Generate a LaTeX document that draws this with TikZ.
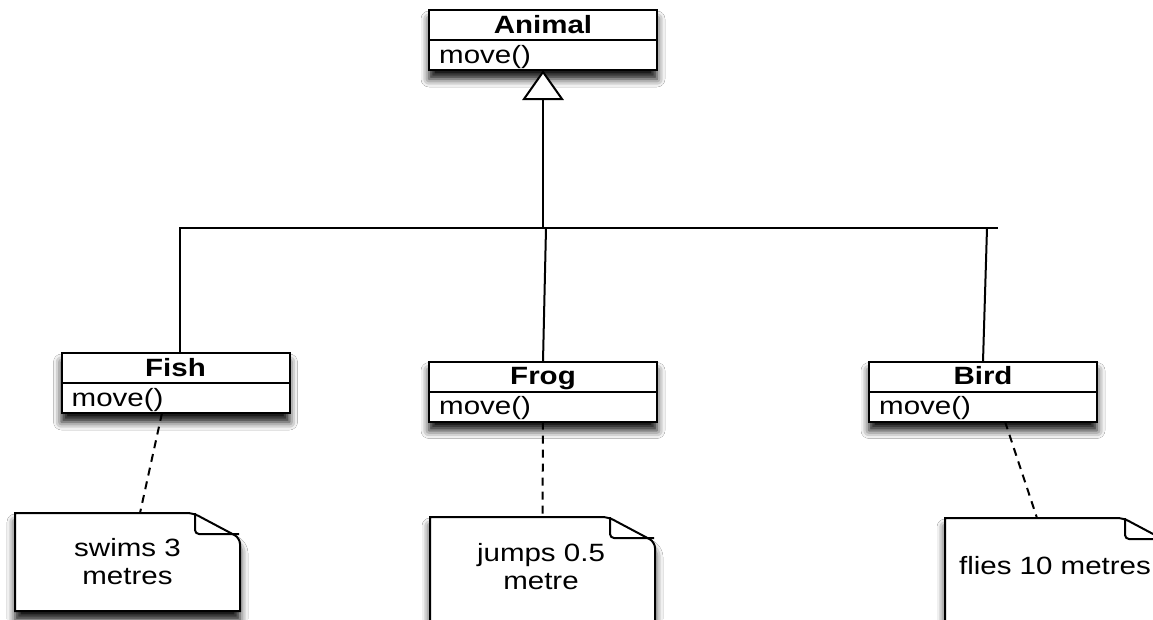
\documentclass[tikz,border=0pt]{standalone}
\usepackage{fontspec}
\setmainfont{Liberation Sans}[FakeStretch=1.18]
\usetikzlibrary{calc,shadows.blur}

\tikzset{
  softshadow/.style={blur shadow={shadow xshift=0pt, shadow yshift=-9pt, shadow blur radius=8pt, shadow opacity=95}},
  classbox/.style={draw, line width=2pt, fill=white, minimum width=228pt, minimum height=60pt,
    inner sep=0pt, outer sep=0pt, softshadow},
  classname/.style={font=\fontsize{25}{28}\selectfont\bfseries, anchor=north, inner xsep=0pt,
    inner ysep=3pt, text height=20pt, text depth=4pt},
  classop/.style={font=\fontsize{25}{28}\selectfont, anchor=north west, inner xsep=10pt,
    inner ysep=3pt, text height=20pt, text depth=4pt},
  divider/.style={line width=2pt},
  genline/.style={line width=2pt},
  notelink/.style={line width=2pt, dash pattern=on 8pt off 6pt},
  notesheet/.style={minimum width=225pt, inner sep=0pt, outer sep=0pt},
  noteline/.style={line width=2pt},
  notetext/.style={font=\fontsize{25}{28}\selectfont, align=center, inner sep=0pt}
}

% note sheet with a folded top-right corner, drawn round an empty node
\newcommand{\notesheetpath}[1]{%
  \draw[noteline, fill=white, softshadow]
    (#1.south west) -- (#1.north west) [rounded corners=6pt]
    -- ($(#1.north east)+(-47,0)$) -- ($(#1.north east)+(0,25)$) [sharp corners]
    -- (#1.south east) -- cycle;
  \draw[noteline, rounded corners=4pt]
    ($(#1.north east)+(-45,0)$) -- ($(#1.north east)+(-45,21)$) -- ($(#1.north east)+(-1,21)$);
}

\begin{document}
\begin{tikzpicture}[x=1pt,y=-1pt]
\useasboundingbox (0,0) rectangle (1153,619);
\clip (0,0) rectangle (1153,619);
\fill[white] (0,0) rectangle (1153,619);

% class boxes
\node[classbox] (animal) at (543,40) {};
\node[classbox] (fish) at (175.5,383) {};
\node[classbox] (frog) at (543,391.5) {};
\node[classbox] (bird) at (983,391.5) {};

\foreach \cls/\title in {animal/Animal, fish/Fish, frog/Frog, bird/Bird}{
  \draw[divider] (\cls.west) -- (\cls.east);
  \node[classname] (\cls name) at (\cls.north) {\title};
  \node[classop] (\cls ops) at (\cls.west) {move()};
}

% generalisation tree
\coordinate (fishjoin) at (180,228);
\coordinate (frogjoin) at (546,228);
\coordinate (birdjoin) at (987,228);
\coordinate (busend) at (998,228);
\coordinate (trunkfoot) at (543,228);
\draw[genline] ($(fish.north)+(4.5,0)$) -- (fishjoin) -- (busend);
\draw[genline] (frogjoin) -- (frog.north);
\draw[genline] (birdjoin) -- (bird.north);
\draw[genline] (trunkfoot) -- ($(animal.south)+(0,29)$);
\draw[genline, fill=white] ($(animal.south)+(0,2)$) -- ++(-19,27) -- ++(38,0) -- cycle;

% notes
\node[notesheet, minimum height=98pt] (fishnote) at (127.5,562) {};
\node[notesheet, minimum height=110pt] (frognote) at (542.5,572) {};
\node[notesheet, minimum height=110pt] (birdnote) at (1057.5,573) {};
\notesheetpath{fishnote}
\notesheetpath{frognote}
\notesheetpath{birdnote}
\node[notetext] (fishtext) at (127.5,562) {swims 3\\metres};
\node[notetext] (frogtext) at (541,567) {jumps 0.5\\metre};
\node[notetext] (birdtext) at (1055,566) {flies 10 metres};

% note attachments
\draw[notelink] ($(fish.south)+(-13.5,0)$) -- ($(fishnote.north)+(12.5,0)$);
\draw[notelink] (frog.south) -- (frognote.north);
\draw[notelink] ($(bird.south)+(22,0)$) -- ($(birdnote.north)+(-20.5,0)$);
\end{tikzpicture}
\end{document}
